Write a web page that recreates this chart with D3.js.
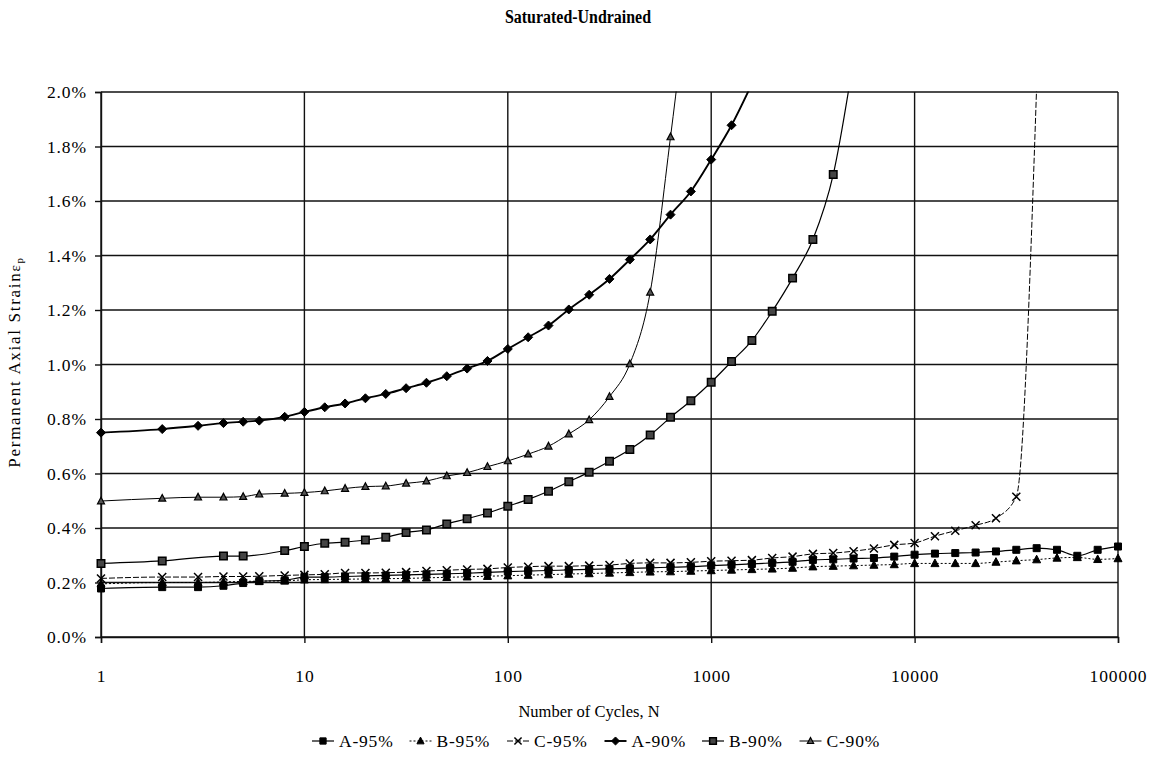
<!DOCTYPE html>
<html>
<head>
<meta charset="utf-8">
<script src="https://cdn.jsdelivr.net/npm/d3@7"></script>
<style>
  body { margin: 0; background: #fff; }
  svg { display: block; }
  text { font-family: "Liberation Serif", "Times New Roman", serif; fill: #000; }
</style>
</head>
<body>
<svg id="chart" width="1155" height="763"></svg>
<script>
// Number of load cycles at which strain was recorded (shared by all series)
const cycles = [1, 2, 3, 4, 5, 6, 8, 10, 12.59, 15.85, 19.95, 25.12, 31.62, 39.81, 50.12, 63.1, 79.43,
  100, 125.9, 158.5, 199.5, 251.2, 316.2, 398.1, 501.2, 631, 794.3,
  1000, 1259, 1585, 1995, 2512, 3162, 3981, 5012, 6310, 7943,
  10000, 12589, 15849, 19953, 25119, 31623, 39811, 50119, 63096, 79433, 100000];

// Permanent axial strain (%) for each specimen, aligned with `cycles`
const a95 = [0.178, 0.183, 0.183, 0.188, 0.198, 0.205, 0.208, 0.22, 0.22, 0.222,
  0.224, 0.226, 0.228, 0.23, 0.232, 0.234, 0.237, 0.24, 0.242, 0.244,
  0.246, 0.248, 0.25, 0.252, 0.254, 0.256, 0.258, 0.262, 0.265, 0.268,
  0.272, 0.276, 0.283, 0.285, 0.288, 0.29, 0.295, 0.302, 0.306, 0.308,
  0.31, 0.314, 0.32, 0.326, 0.32, 0.298, 0.32, 0.332];
const b95 = [0.195, 0.2, 0.2, 0.202, 0.204, 0.205, 0.206, 0.21, 0.211, 0.212,
  0.213, 0.214, 0.215, 0.217, 0.219, 0.221, 0.223, 0.225, 0.227, 0.229,
  0.231, 0.233, 0.235, 0.237, 0.239, 0.24, 0.242, 0.244, 0.246, 0.248,
  0.25, 0.253, 0.258, 0.26, 0.262, 0.264, 0.266, 0.27, 0.27, 0.27,
  0.27, 0.275, 0.28, 0.284, 0.29, 0.292, 0.285, 0.288];
const c95 = [0.215, 0.22, 0.22, 0.222, 0.222, 0.223, 0.226, 0.228, 0.23, 0.235,
  0.235, 0.236, 0.238, 0.242, 0.245, 0.248, 0.25, 0.255, 0.258, 0.26,
  0.26, 0.262, 0.264, 0.27, 0.272, 0.272, 0.274, 0.278, 0.28, 0.282,
  0.29, 0.295, 0.305, 0.308, 0.315, 0.325, 0.338, 0.345, 0.37, 0.39,
  0.41, 0.436, 0.515, 2.02];
const a90 = [0.75, 0.763, 0.775, 0.785, 0.79, 0.794, 0.808, 0.826, 0.843, 0.857,
  0.876, 0.892, 0.913, 0.933, 0.957, 0.985, 1.013, 1.057, 1.1, 1.143,
  1.202, 1.256, 1.314, 1.385, 1.459, 1.55, 1.635, 1.752, 1.878, 2.03];
const b90 = [0.27, 0.279, null, 0.297, 0.297, null, 0.317, 0.332, 0.344, 0.348,
  0.356, 0.366, 0.383, 0.393, 0.415, 0.434, 0.455, 0.48, 0.505, 0.535,
  0.57, 0.605, 0.645, 0.688, 0.741, 0.806, 0.867, 0.935, 1.011, 1.088,
  1.195, 1.317, 1.459, 1.697, 2.12];
const c90 = [0.499, 0.509, 0.513, 0.513, 0.515, 0.524, 0.527, 0.53, 0.536, 0.545,
  0.552, 0.554, 0.564, 0.572, 0.591, 0.603, 0.625, 0.646, 0.671, 0.70,
  0.745, 0.797, 0.882, 1.002, 1.265, 1.835, 2.45];

const seriesNames = ["A-95%", "B-95%", "C-95%", "A-90%", "B-90%", "C-90%"];
const yTicks = [0, 0.2, 0.4, 0.6, 0.8, 1.0, 1.2, 1.4, 1.6, 1.8, 2.0];
const xTicks = [1, 10, 100, 1000, 10000, 100000];

// Marker shapes
const sqShape = { draw(c, s) { const h = Math.sqrt(s) / 2; c.rect(-h, -h, 2 * h, 2 * h); } };
const triShape = { draw(c, s) { const r = Math.sqrt(s) / 2; c.moveTo(0, -r * 1.1); c.lineTo(r, r * 0.8); c.lineTo(-r, r * 0.8); c.closePath(); } };
const diaShape = { draw(c, s) { const r = Math.sqrt(s) / 2; c.moveTo(0, -r); c.lineTo(r, 0); c.lineTo(0, r); c.lineTo(-r, 0); c.closePath(); } };
const xShape = { draw(c, s) { const r = Math.sqrt(s) / 2; c.moveTo(-r, -r); c.lineTo(r, r); c.moveTo(r, -r); c.lineTo(-r, r); } };

const styles = [
  { values: a95, shape: sqShape, size: 49, fill: "#000", stroke: "#000", sw: 1, lw: 1.2, dash: null },
  { values: b95, shape: triShape, size: 64, fill: "#000", stroke: "#000", sw: 1, lw: 1, dash: "2,2" },
  { values: c95, shape: xShape, size: 64, fill: "none", stroke: "#000", sw: 1.5, lw: 1, dash: "6,2" },
  { values: a90, shape: diaShape, size: 81, fill: "#000", stroke: "#000", sw: 1, lw: 1.9, dash: null },
  { values: b90, shape: sqShape, size: 56, fill: "#444", stroke: "#000", sw: 1.5, lw: 1.2, dash: null },
  { values: c90, shape: triShape, size: 49, fill: "#555", stroke: "#000", sw: 1.2, lw: 1, dash: null }
];

const svg = d3.select("#chart");
const plotLeft = 101, plotRight = 1118, plotTop = 92, plotBottom = 637;

const x = d3.scaleLog().domain([1, 100000]).range([plotLeft, plotRight]);
const y = d3.scaleLinear().domain([0, 2.0]).range([plotBottom, plotTop]);

svg.append("rect").attr("width", 1155).attr("height", 763).attr("fill", "#fff");

// Title
svg.append("text").attr("x", 578).attr("y", 23).attr("text-anchor", "middle")
  .attr("font-weight", "bold").attr("font-size", 18).attr("textLength", 146)
  .attr("lengthAdjust", "spacingAndGlyphs").text("Saturated-Undrained");

// Gridlines
const grid = svg.append("g").attr("stroke", "#111").attr("stroke-width", 1.4);
grid.selectAll("line.h").data(yTicks).join("line").attr("class", "h")
  .attr("x1", plotLeft).attr("x2", plotRight).attr("y1", d => y(d)).attr("y2", d => y(d));
grid.selectAll("line.v").data(xTicks).join("line").attr("class", "v")
  .attr("x1", d => x(d)).attr("x2", d => x(d)).attr("y1", plotTop).attr("y2", plotBottom);

// Axes
const yAxis = svg.append("g").attr("transform", `translate(${plotLeft},0)`)
  .call(d3.axisLeft(y).tickValues(yTicks).tickSize(6).tickPadding(8).tickFormat(d => d.toFixed(1) + "%"));
const xAxis = svg.append("g").attr("transform", `translate(0,${plotBottom})`)
  .call(d3.axisBottom(x).tickValues(xTicks).tickSize(6).tickPadding(27).tickFormat(d3.format("d")));
[yAxis, xAxis].forEach(a => {
  a.select(".domain").attr("stroke", "#111").attr("stroke-width", 1.4);
  a.selectAll(".tick line").attr("stroke", "#111").attr("stroke-width", 1.4);
  a.selectAll(".tick text").attr("font-family", '"Liberation Serif", serif')
    .attr("font-size", 17.5).attr("letter-spacing", 0.9).attr("fill", "#000");
});

// Axis titles
svg.append("text").attr("x", 589).attr("y", 717).attr("text-anchor", "middle")
  .attr("font-size", 16.5).text("Number of Cycles, N");
const yt = svg.append("text").attr("transform", "translate(20,362) rotate(-90)")
  .attr("text-anchor", "middle").attr("font-size", 17).attr("letter-spacing", 1.7);
yt.append("tspan").text("Permanent Axial Strain");
yt.append("tspan").attr("font-size", 15).text("ε");
yt.append("tspan").attr("font-size", 11).attr("dy", 3).text("p");

// Series
svg.append("clipPath").attr("id", "plotClip").append("rect")
  .attr("x", 80).attr("y", plotTop - 0.5).attr("width", 1060).attr("height", plotBottom - plotTop + 20);
const plot = svg.append("g").attr("clip-path", "url(#plotClip)");

const line = d3.line().x(d => x(d.n)).y(d => y(d.v)).curve(d3.curveMonotoneX);

styles.forEach(s => {
  const pts = s.values.map((v, i) => ({ n: cycles[i], v })).filter(d => d.v != null);
  const g = plot.append("g");
  g.append("path").datum(pts).attr("d", line).attr("fill", "none")
    .attr("stroke", "#000").attr("stroke-width", s.lw)
    .attr("stroke-dasharray", s.dash);
  g.selectAll("path.m").data(pts).join("path").attr("class", "m")
    .attr("transform", d => `translate(${x(d.n)},${y(d.v)})`)
    .attr("d", d3.symbol(s.shape, s.size))
    .attr("fill", s.fill).attr("stroke", s.stroke).attr("stroke-width", s.sw);
});

// Legend
const leg = svg.append("g").attr("transform", "translate(312,741)");
seriesNames.forEach((name, i) => {
  const s = styles[i];
  const g = leg.append("g").attr("transform", `translate(${i * 97.5},0)`);
  g.append("line").attr("x1", 0).attr("x2", 22).attr("y1", 0).attr("y2", 0)
    .attr("stroke", "#000").attr("stroke-width", s.lw).attr("stroke-dasharray", s.dash);
  g.append("path").attr("transform", "translate(11,0)")
    .attr("d", d3.symbol(s.shape, s.size * 0.8))
    .attr("fill", s.fill).attr("stroke", s.stroke).attr("stroke-width", s.sw);
  g.append("text").attr("x", 27).attr("y", 5.5).attr("font-size", 17.5)
    .attr("letter-spacing", 0.8).text(name);
});
</script>
</body>
</html>
